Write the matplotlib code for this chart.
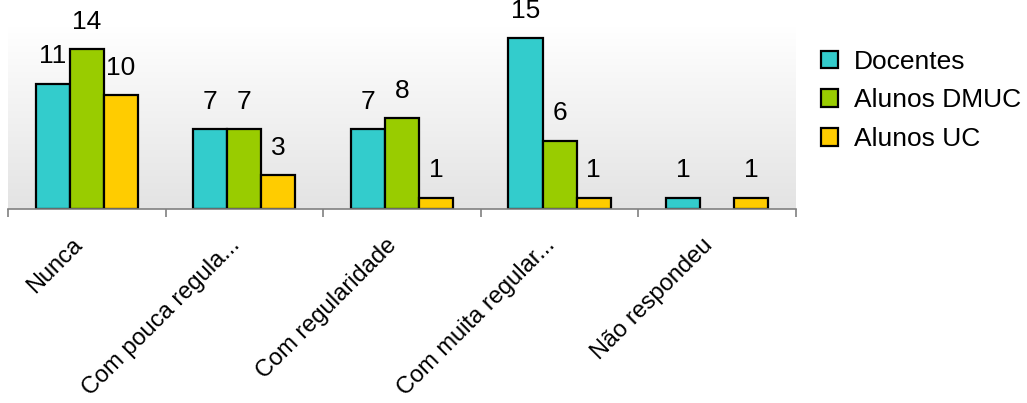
import numpy as np
import matplotlib
matplotlib.use("Agg")
import matplotlib.pyplot as plt
from matplotlib.patches import Patch
from matplotlib.transforms import ScaledTranslation

plt.rcParams['font.family'] = ['Liberation Sans', 'DejaVu Sans']

categories = ["Nunca", "Com pouca regula...", "Com regularidade",
              "Com muita regular...", "Não respondeu"]
series_names = ["Docentes", "Alunos DMUC", "Alunos UC"]
docentes = [11, 7, 7, 15, 1]
alunos_dmuc = [14, 7, 8, 6, 0]
alunos_uc = [10, 3, 1, 1, 1]
colors = ["#33CCCC", "#99CC00", "#FFCC00"]

fig = plt.figure(figsize=(10.27, 4.03), dpi=100)
ax = fig.add_axes([0.0078, 0.4814, 0.7672, 0.4526])

# gradient background of the plot area (white at top, light grey at bottom)
grad = np.linspace(0, 1, 256).reshape(-1, 1)
ax.imshow(grad, extent=[-0.5, 4.5, 0, 16], aspect='auto', origin='lower',
          cmap=matplotlib.colors.LinearSegmentedColormap.from_list(
              "bg", ["#e3e3e3", "#ffffff"]), zorder=0)

x = np.arange(len(categories))
w = 0.216
all_series = [docentes, alunos_dmuc, alunos_uc]
for i, (vals, col) in enumerate(zip(all_series, colors)):
    pos = x + (i - 1) * w
    for p, v in zip(pos, vals):
        if v == 0:
            continue
        ax.bar(p, v, width=w, color=col, edgecolor='black', linewidth=1.6, zorder=2)
        ax.annotate(str(v), (p, v), xytext=(0, 11), textcoords='offset points',
                    ha='center', va='bottom', fontsize=19, annotation_clip=False)

ax.set_xlim(-0.5, 4.5)
ax.set_ylim(0, 16)
for s in ['left', 'right', 'top']:
    ax.spines[s].set_visible(False)
ax.spines['bottom'].set_color('#808080')
ax.spines['bottom'].set_linewidth(1.2)
ax.set_yticks([])

# boundary ticks as major, labels on minor ticks at category centres
ax.set_xticks(np.arange(-0.5, 5.0, 1.0))
ax.set_xticklabels([])
ax.tick_params(axis='x', which='major', length=6, width=1.2, color='#808080', direction='out')
ax.set_xticks(x, minor=True)
ax.set_xticklabels(categories, minor=True, rotation=45, ha='right',
                   rotation_mode='anchor', fontsize=17)
ax.tick_params(axis='x', which='minor', length=0, pad=18)
shift = ScaledTranslation(-16 / 100, 0, fig.dpi_scale_trans)
for lbl in ax.get_xticklabels(minor=True):
    lbl.set_transform(lbl.get_transform() + shift)

handles = [Patch(facecolor=c, edgecolor='black', linewidth=1.6) for c in colors]
fig.legend(handles, series_names, loc='upper left', bbox_to_anchor=(0.776, 0.935),
           frameon=False, fontsize=19, handlelength=0.65, handleheight=0.65,
           handletextpad=0.62, labelspacing=0.55, borderpad=0.4)

fig.savefig("out.png", dpi=100)
